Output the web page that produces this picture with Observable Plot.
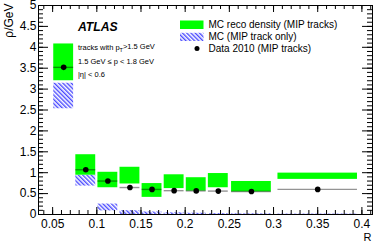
<!DOCTYPE html>
<html>
<head>
<meta charset="utf-8">
<script src="https://cdn.jsdelivr.net/npm/d3@7"></script>
<script src="https://cdn.jsdelivr.net/npm/@observablehq/plot@0.6"></script>
<style>
  html, body { margin: 0; padding: 0; background: #fff; }
</style>
</head>
<body>
<div id="chart"></div>
<script>
// ---- data ----
const binLo = [0.05, 0.075, 0.1, 0.125, 0.15, 0.175, 0.2, 0.225, 0.25, 0.3];
const binHi = [0.075, 0.1, 0.125, 0.15, 0.175, 0.2, 0.225, 0.25, 0.3, 0.4];
const recoLo = [3.20, 0.94, 0.64, 0.73, 0.41, 0.62, 0.56, 0.64, 0.54, 0.84];
const recoHi = [4.08, 1.43, 1.01, 1.13, 0.74, 0.95, 0.88, 0.98, 0.79, 0.99];
const mipLo = [2.53, 0.68, 0.086, 0.0, 0.0, 0.0, 0.0, 0.0, 0.0, 0.0];
const mipHi = [3.14, 0.94, 0.25, 0.09, 0.06, 0.04, 0.03, 0.02, 0.015, 0.01];
const dataRho = [3.52, 1.07, 0.80, 0.645, 0.60, 0.57, 0.565, 0.56, 0.55, 0.60];

const xTicks = [0.05, 0.1, 0.15, 0.2, 0.25, 0.3, 0.35, 0.4];
const yTicks = [0, 0.5, 1, 1.5, 2, 2.5, 3, 3.5, 4, 4.5, 5];
const xLabel = "R";
const yLabel = "ρ/GeV";
const legendLabels = ["MC reco density (MIP tracks)", "MC (MIP track only)", "Data 2010 (MIP tracks)"];
const atlasLabel = "ATLAS";
const annot = ["tracks with pT>1.5 GeV", "1.5 GeV ≤ p < 1.8 GeV", "|η| < 0.6"];

// ---- layout ----
const W = 374, H = 243;
const mL = 38, mR = 2, mT = 5, mB = 29;
const fw = W - mL - mR, fh = H - mT - mB;
const barFrac = 0.05; // box inset fraction of bin width
const font = "'Liberation Sans', Arial, Helvetica, sans-serif";

const rows = binLo.map((lo, i) => {
  const w = binHi[i] - lo;
  return {
    x1: lo + barFrac * w, x2: binHi[i] - barFrac * w, xc: (lo + binHi[i]) / 2,
    rLo: recoLo[i], rHi: recoHi[i], mLo: mipLo[i], mHi: mipHi[i], d: dataRho[i]
  };
});

const xMinor = d3.range(0.04, 0.4101, 0.01).map(v => +v.toFixed(3));
const yMinor = d3.range(0, 5.001, 0.1).map(v => +v.toFixed(2));
const fmt = d => String(+(+d).toFixed(3));

const green = "#00ff00";
const T = (txt, opts) => Plot.text([txt], {frameAnchor: "top-left", textAnchor: "start", lineAnchor: "middle", text: d => d, ...opts});

const plot = Plot.plot({
  width: W, height: H,
  marginLeft: mL, marginRight: mR, marginTop: mT, marginBottom: mB,
  x: {domain: [0.034, 0.412]},
  y: {domain: [0, 5]},
  style: {fontFamily: font, fontSize: "12px", background: "#fff", color: "#000"},
  marks: [
    // MC MIP-only hatched boxes
    Plot.rect(rows, {x1: "x1", x2: "x2", y1: "mLo", y2: "mHi", fill: "url(#hatch)"}),
    // MC reco density boxes
    Plot.rect(rows, {x1: "x1", x2: "x2", y1: "rLo", y2: "rHi", fill: green}),
    // data horizontal bars
    Plot.ruleY(rows, {x1: "x1", x2: "x2", y: "d", stroke: "#000", strokeOpacity: 0.42, strokeWidth: 1.4}),
    // data points
    Plot.dot(rows, {x: "xc", y: "d", r: 2.8, fill: "#000", stroke: null}),

    // ticks (inward, all sides)
    Plot.tickY(yTicks, {y: d => d, insetRight: fw - 10, stroke: "#000"}),
    Plot.tickY(yMinor, {y: d => d, insetRight: fw - 5, stroke: "#000"}),
    Plot.tickY(yTicks, {y: d => d, insetLeft: fw - 10, stroke: "#000"}),
    Plot.tickY(yMinor, {y: d => d, insetLeft: fw - 5, stroke: "#000"}),
    Plot.tickX(xTicks, {x: d => d, insetTop: fh - 7, stroke: "#000"}),
    Plot.tickX(xMinor, {x: d => d, insetTop: fh - 4, stroke: "#000"}),
    Plot.tickX(xTicks, {x: d => d, insetBottom: fh - 7, stroke: "#000"}),
    Plot.tickX(xMinor, {x: d => d, insetBottom: fh - 4, stroke: "#000"}),

    // axis labels
    Plot.axisY({ticks: yTicks, tickSize: 0, tickPadding: 2, tickFormat: fmt, label: null, fontSize: 12}),
    Plot.axisX({ticks: xTicks, tickSize: 0, tickPadding: 5, tickFormat: fmt, label: null, fontSize: 12}),
    Plot.frame({stroke: "#000", strokeWidth: 1}),

    // axis titles
    T(yLabel, {rotate: -90, textAnchor: "end", dx: 8.5 - mL, dy: -2, fontSize: 12}),
    Plot.text([xLabel], {frameAnchor: "bottom-right", textAnchor: "end", lineAnchor: "middle", dx: -1, dy: 22.8, fontSize: 11, text: d => d}),

    // ATLAS label and annotations
    T(atlasLabel, {dx: 39.4, dy: 21.2, fontSize: 12.2, fontWeight: "bold", fontStyle: "italic"}),
    T(annot[0], {dx: 39.4, dy: 42, fontSize: 7.5}),
    T(annot[1], {dx: 39.4, dy: 56, fontSize: 7.5}),
    T(annot[2], {dx: 39.4, dy: 68.6, fontSize: 7.5}),

    // legend
    Plot.frame({fill: green, stroke: null, insetLeft: 179.5 - mL, insetRight: W - mR - 203, insetTop: 20 - mT, insetBottom: H - mB - 28.5}),
    Plot.frame({fill: "url(#hatch)", stroke: null, insetLeft: 179.5 - mL, insetRight: W - mR - 203, insetTop: 32.3 - mT, insetBottom: H - mB - 40.5}),
    Plot.dot([0], {frameAnchor: "top-left", dx: 196.5 - mL, dy: 48 - mT, r: 2.5, fill: "#000", stroke: null}),
    T(legendLabels[0], {dx: 208 - mL, dy: 24.7 - mT, fontSize: 10}),
    T(legendLabels[1], {dx: 208 - mL, dy: 36.3 - mT, fontSize: 10}),
    T(legendLabels[2], {dx: 208 - mL, dy: 47.8 - mT, fontSize: 10})
  ]
});

// hatch pattern definition
const svg = d3.select(plot.tagName.toLowerCase() === "svg" ? plot : plot.querySelector("svg"));
const defs = svg.insert("defs", ":first-child");
const pat = defs.append("pattern")
  .attr("id", "hatch")
  .attr("patternUnits", "userSpaceOnUse")
  .attr("width", 3).attr("height", 3)
  .attr("patternTransform", "rotate(-45)");
pat.append("line").attr("x1", 0.75).attr("y1", 0).attr("x2", 0.75).attr("y2", 3)
  .attr("stroke", "#2a2aff").attr("stroke-width", 1.2);

// subscript T in annotation
svg.selectAll("text").filter(function() { return this.textContent === annot[0]; })
  .each(function() {
    const t = d3.select(this);
    t.text(null);
    t.append("tspan").text("tracks with p");
    t.append("tspan").attr("dy", "0.35em").attr("font-size", "5.5px").text("T");
    t.append("tspan").attr("dy", "-0.35em").text(">1.5 GeV");
  });

document.getElementById("chart").appendChild(plot);
</script>
</body>
</html>
